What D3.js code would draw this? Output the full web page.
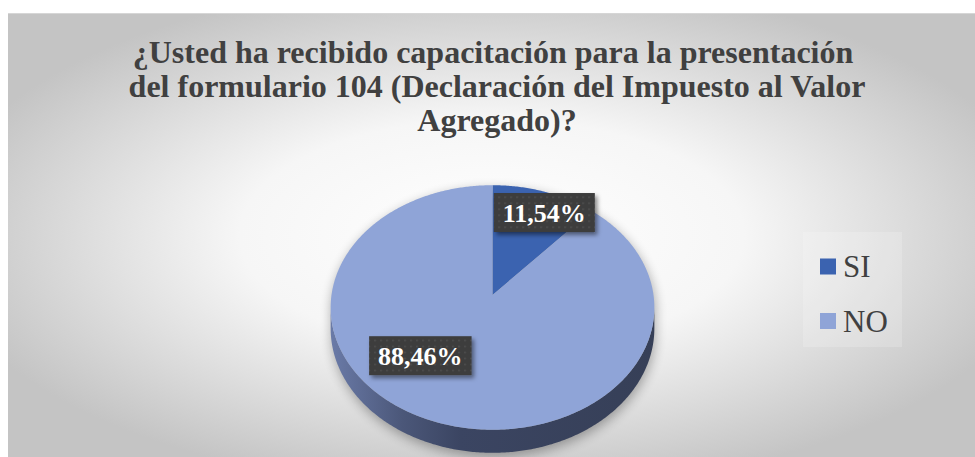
<!DOCTYPE html>
<html lang="es">
<head>
<meta charset="utf-8">
<title>Capacitación formulario 104</title>
<script src="https://cdn.jsdelivr.net/npm/d3@7/dist/d3.min.js"></script>
<style>
  html, body { margin: 0; padding: 0; background: #ffffff; }
  svg { display: block; }
</style>
</head>
<body>
<svg id="chart" width="975" height="457"></svg>
<script>
// ---- data ----
const categories = ["SI", "NO"];
const values = [11.54, 88.46];
const valueLabels = ["11,54%", "88,46%"];
const titleLines = [
  "¿Usted ha recibido capacitación para la presentación ",
  "del formulario 104 (Declaración del Impuesto al Valor",
  "Agregado)?"
];

// ---- layout / style ----
const W = 975, H = 457;
const topColors = ["#3b63b0", "#8fa4d7"];
const serif = "'Liberation Serif', 'Times New Roman', Times, serif";

// pie seen from above with a little perspective
const pie3d = { cx: 492.5, cy: 295, rx: 161, ry: 121, persp: 0.102, depth: 20.7 };
// label placement along each slice: angle nudge (deg) and radius fraction
const labelPlace = [{ dA: 4.5, r: 0.81 }, { dA: 21, r: 0.64 }];

const svg = d3.select("#chart");
const defs = svg.append("defs");

// background: soft radial grey
const bg = defs.append("radialGradient").attr("id", "bgGrad")
  .attr("cx", "50%").attr("cy", "50%").attr("r", "58%");
bg.append("stop").attr("offset", "0%").attr("stop-color", "#ffffff");
bg.append("stop").attr("offset", "45%").attr("stop-color", "#f6f6f6");
bg.append("stop").attr("offset", "100%").attr("stop-color", "#c4c4c4");

svg.append("rect")
  .attr("x", 8).attr("y", 13).attr("width", W - 8).attr("height", H - 13)
  .attr("fill", "url(#bgGrad)");
svg.append("line")
  .attr("x1", 8).attr("x2", W).attr("y1", 13.5).attr("y2", 13.5)
  .attr("stroke", "#d6d6d6").attr("stroke-width", 1);

// ---- title ----
svg.append("text")
  .attr("text-anchor", "middle")
  .attr("font-family", serif).attr("font-weight", "bold").attr("font-size", 32)
  .attr("fill", "#404040")
  .selectAll("tspan").data(titleLines).join("tspan")
  .attr("x", 497)
  .attr("y", (d, i) => 63 + i * 34)
  .attr("xml:space", "preserve")
  .style("white-space", "pre")
  .text(d => d);

// ---- pie ----
const pie = d3.pie().sort(null).value(d => d.value);
const arcs = pie(categories.map((c, i) => ({ cat: c, value: values[i], label: valueLabels[i], color: topColors[i] })));

// projected point of angle a (clockwise from 12 o'clock) at radius fraction r
function proj(a, r) {
  const u = r * Math.sin(a), v = -r * Math.cos(a);
  const w = 1 - pie3d.persp * v;
  return [pie3d.cx + pie3d.rx * u / w, pie3d.cy + pie3d.ry * v / w, w];
}
function rim(a0, a1, down) {
  const n = Math.max(2, Math.ceil(Math.abs(a1 - a0) / 0.01));
  return d3.range(n + 1).map(i => {
    const a = a0 + (a1 - a0) * i / n;
    const p = proj(a, 1);
    return [p[0], p[1] + (down ? pie3d.depth / p[2] : 0)];
  });
}
const line = d3.line();

// silhouette of the side wall, between the two widest points
const aR = Math.acos(-pie3d.persp), aL = 2 * Math.PI - aR;
const sidePts = rim(aR, aL, false).concat(rim(aL, aR, true));
const topPts = rim(0, 2 * Math.PI, false);

// drop shadow under the pie
const sh = defs.append("filter").attr("id", "pieShadow")
  .attr("x", "-20%").attr("y", "-20%").attr("width", "140%").attr("height", "140%");
sh.append("feGaussianBlur").attr("stdDeviation", 6);
const shadowG = svg.append("g").attr("filter", "url(#pieShadow)")
  .attr("transform", "translate(1,4)").attr("fill", "#000").attr("opacity", 0.32);
shadowG.append("path").attr("d", line(sidePts) + "Z");
shadowG.append("path").attr("d", line(topPts) + "Z");

// side wall shading
const sideGrad = defs.append("linearGradient").attr("id", "sideGrad")
  .attr("gradientUnits", "userSpaceOnUse")
  .attr("x1", pie3d.cx - pie3d.rx).attr("x2", pie3d.cx + pie3d.rx)
  .attr("y1", 0).attr("y2", 0);
[["0%", "#6a7aa7"], ["22%", "#4b5779"], ["40%", "#3b4562"], ["100%", "#363f57"]]
  .forEach(s => sideGrad.append("stop").attr("offset", s[0]).attr("stop-color", s[1]));

svg.append("path").attr("d", line(sidePts) + "Z").attr("fill", "url(#sideGrad)");

// top face slices
svg.append("g").selectAll("path").data(arcs).join("path")
  .attr("d", d => {
    const c = proj(0, 0);
    return line([[c[0], c[1]]].concat(rim(d.startAngle, d.endAngle, false))) + "Z";
  })
  .attr("fill", d => d.data.color);

// ---- value labels ----
const dots = defs.append("pattern").attr("id", "dots")
  .attr("width", 6).attr("height", 6).attr("patternUnits", "userSpaceOnUse");
dots.append("rect").attr("width", 6).attr("height", 6).attr("fill", "#3d3d3d");
dots.append("rect").attr("x", 2).attr("y", 2).attr("width", 1.4).attr("height", 1.4).attr("fill", "#575757");

const lsh = defs.append("filter").attr("id", "labelShadow")
  .attr("x", "-20%").attr("y", "-30%").attr("width", "140%").attr("height", "160%");
lsh.append("feDropShadow").attr("dx", 2.5).attr("dy", 3).attr("stdDeviation", 2.2)
  .attr("flood-color", "#000").attr("flood-opacity", 0.45);

const labelG = svg.append("g").selectAll("g").data(arcs).join("g")
  .attr("transform", (d, i) => {
    const a = (d.startAngle + d.endAngle) / 2 + labelPlace[i].dA * Math.PI / 180;
    const p = proj(a, labelPlace[i].r);
    return `translate(${p[0]},${p[1]})`;
  });
const labelText = labelG.append("text")
  .attr("text-anchor", "middle")
  .attr("y", 9.5)
  .attr("font-family", serif).attr("font-weight", "bold").attr("font-size", 26)
  .attr("fill", "#ffffff")
  .text(d => d.data.label);
labelG.each(function () {
  const g = d3.select(this);
  const w = g.select("text").node().getComputedTextLength() + 18;
  const h = 39;
  g.insert("rect", "text")
    .attr("x", -w / 2).attr("y", -h / 2).attr("width", w).attr("height", h)
    .attr("fill", "url(#dots)").attr("filter", "url(#labelShadow)");
});

// ---- legend ----
const legY = d3.scalePoint().domain(categories).range([266.5, 321]);
svg.append("rect")
  .attr("x", 803).attr("y", 232).attr("width", 99).attr("height", 115)
  .attr("fill", "#ffffff").attr("opacity", 0.18);
const leg = svg.append("g").selectAll("g").data(arcs).join("g")
  .attr("transform", d => `translate(820,${legY(d.data.cat)})`);
leg.append("rect").attr("x", 0).attr("y", -8).attr("width", 16).attr("height", 16)
  .attr("fill", d => d.data.color);
leg.append("text").attr("x", 23).attr("y", 10.5)
  .attr("font-family", serif).attr("font-size", 31).attr("fill", "#404040")
  .text(d => d.data.cat);
</script>
</body>
</html>
